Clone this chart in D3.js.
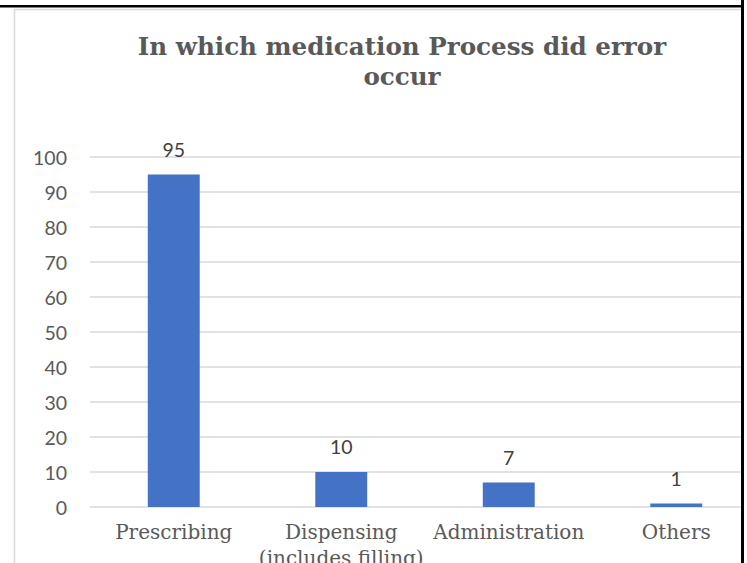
<!DOCTYPE html>
<html>
<head>
<meta charset="utf-8">
<script src="https://cdn.jsdelivr.net/npm/d3@7"></script>
<style>
  html, body { margin: 0; padding: 0; background: #fff; overflow: hidden; }
</style>
</head>
<body>
<svg id="chart" width="747" height="563"></svg>
<script>
// values
const categories = ["Prescribing", "Dispensing\n(includes filling)", "Administration", "Others"];
const counts = [95, 10, 7, 1];
const yTicks = [0, 10, 20, 30, 40, 50, 60, 70, 80, 90, 100];
const titleLines = ["In which medication Process did error", "occur"];

const svg = d3.select("#chart");

// plot area (right part runs past the page edge, like the screenshot)
const plot = { left: 90, right: 760, top: 157, bottom: 507 };

const x = d3.scaleBand()
  .domain(categories)
  .range([plot.left, plot.right])
  .paddingInner(0.69)
  .paddingOuter(0.345);

const y = d3.scaleLinear()
  .domain([0, 100])
  .range([plot.bottom, plot.top]);

// chart frame (light gray border of the embedded chart)
svg.append("rect")
  .attr("x", 14.5).attr("y", 9.5)
  .attr("width", 800).attr("height", 600)
  .attr("fill", "#fff")
  .attr("stroke", "#d9d9d9")
  .attr("stroke-width", 1.5);

// title
svg.append("text")
  .attr("text-anchor", "middle")
  .attr("font-family", "DejaVu Serif")
  .attr("font-weight", "bold")
  .attr("font-size", 24.6)
  .attr("fill", "#595959")
  .selectAll("tspan")
  .data(titleLines)
  .enter().append("tspan")
  .attr("x", 402)
  .attr("y", (d, i) => 55 + i * 30)
  .text(d => d);

// gridlines
svg.append("g")
  .selectAll("line")
  .data(yTicks)
  .enter().append("line")
  .attr("x1", plot.left).attr("x2", plot.right)
  .attr("y1", d => y(d)).attr("y2", d => y(d))
  .attr("stroke", "#d9d9d9")
  .attr("stroke-width", 1.3);

// y axis labels
const yAxis = svg.append("g")
  .attr("transform", `translate(${plot.left - 8},0)`)
  .call(d3.axisLeft(y).tickValues(yTicks).tickSize(0).tickPadding(15));
yAxis.select(".domain").remove();
yAxis.selectAll("text")
  .attr("font-family", "Lato")
  .attr("font-size", 19.5)
  .attr("fill", "#595959")
  .attr("dy", "0.36em");

// bars
svg.append("g")
  .selectAll("rect")
  .data(counts)
  .enter().append("rect")
  .attr("x", (d, i) => x(categories[i]))
  .attr("y", d => y(d))
  .attr("width", x.bandwidth())
  .attr("height", d => y(0) - y(d))
  .attr("fill", "#4472c4");

// data labels
svg.append("g")
  .selectAll("text")
  .data(counts)
  .enter().append("text")
  .attr("x", (d, i) => x(categories[i]) + x.bandwidth() / 2)
  .attr("y", d => y(d) - 18)
  .attr("text-anchor", "middle")
  .attr("font-family", "Lato")
  .attr("font-size", 19.5)
  .attr("fill", "#404040")
  .text(d => d);

// category labels
const catLabels = svg.append("g")
  .selectAll("text")
  .data(categories)
  .enter().append("text")
  .attr("text-anchor", "middle")
  .attr("font-family", "DejaVu Serif")
  .attr("font-size", 20)
  .attr("fill", "#595959");
catLabels.selectAll("tspan")
  .data(d => d.split("\n").map(t => ({ t: t, c: d })))
  .enter().append("tspan")
  .attr("x", d => x(d.c) + x.bandwidth() / 2)
  .attr("y", (d, i) => 539 + i * 26)
  .text(d => d.t);

// everything right of the black page border is blank
svg.append("rect")
  .attr("x", 742).attr("y", 0)
  .attr("width", 10).attr("height", 563)
  .attr("fill", "#fff");

// black page borders
svg.append("line")
  .attr("x1", 0).attr("x2", 744)
  .attr("y1", 6.2).attr("y2", 6.2)
  .attr("stroke", "#000")
  .attr("stroke-width", 2.5);
svg.append("line")
  .attr("x1", 742.5).attr("x2", 742.5)
  .attr("y1", 0).attr("y2", 563)
  .attr("stroke", "#000")
  .attr("stroke-width", 3);
</script>
</body>
</html>
